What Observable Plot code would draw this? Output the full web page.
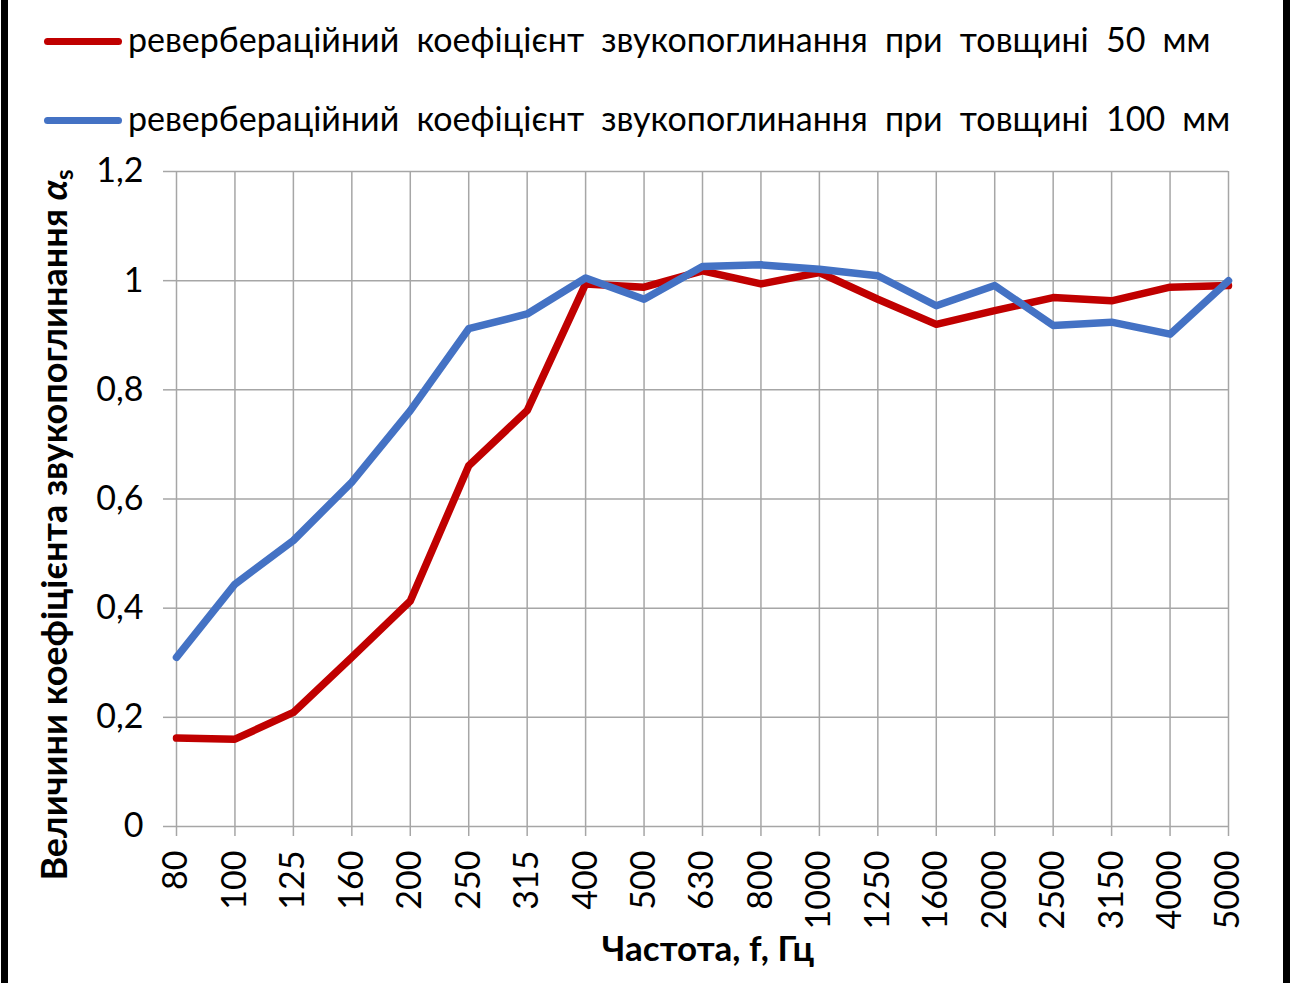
<!DOCTYPE html>
<html>
<head>
<meta charset="utf-8">
<script src="https://cdn.jsdelivr.net/npm/d3@7"></script>
<script src="https://cdn.jsdelivr.net/npm/@observablehq/plot@0.6"></script>
<style>
  html, body { margin: 0; padding: 0; background: #fff; }
  #wrap { position: relative; width: 1290px; height: 983px; overflow: hidden; background: #fff; font-family: Lato, "Open Sans", sans-serif; }
  .bar { position: absolute; top: 0; width: 7px; height: 983px; background: #000; }
  .leg { position: absolute; left: 0; height: 60px; width: 1290px; }
  .leg .sw { position: absolute; left: 44px; width: 78px; height: 7px; border-radius: 4px; }
  .leg .tx { position: absolute; left: 128px; font-size: 34px; line-height: 40px; color: #000; white-space: nowrap; word-spacing: 8.5px; }
  #chart { position: absolute; left: 0; top: 150px; }
</style>
</head>
<body>
<div id="wrap">
  <div class="leg" style="top:0px">
    <div class="sw" style="top:37.5px;background:#C00000"></div>
    <div class="tx" id="t1" style="top:19px"></div>
  </div>
  <div class="leg" style="top:79px">
    <div class="sw" style="top:37.5px;background:#4472C4"></div>
    <div class="tx" id="t2" style="top:19px"></div>
  </div>
  <div id="chart"></div>
  <div class="bar" style="left:1px"></div>
  <div class="bar" style="left:1283px"></div>
</div>
<script>
const categories = ["80","100","125","160","200","250","315","400","500","630","800","1000","1250","1600","2000","2500","3150","4000","5000"];
const thick50 = [0.162,0.160,0.209,0.310,0.413,0.661,0.762,0.994,0.988,1.018,0.994,1.015,0.966,0.920,0.945,0.969,0.963,0.988,0.991];
const thick100 = [0.310,0.444,0.524,0.631,0.762,0.912,0.939,1.005,0.966,1.026,1.029,1.021,1.009,0.954,0.991,0.918,0.924,0.902,1.000];
const seriesNames = ["ревербераційний коефіцієнт звукопоглинання при товщині 50 мм","ревербераційний коефіцієнт звукопоглинання при товщині 100 мм"];
const seriesColors = ["#C00000","#4472C4"];
const yTicks = [0,0.2,0.4,0.6,0.8,1,1.2];
const yTickLabels = ["0","0,2","0,4","0,6","0,8","1","1,2"];
const xTitle = "Частота, f, Гц";
const yTitle = "Величини коефіцієнта звукопоглинання ";

document.getElementById("t1").textContent = seriesNames[0];
document.getElementById("t2").textContent = seriesNames[1];

const d50 = categories.map((c,i)=>({f:c, v:thick50[i]}));
const d100 = categories.map((c,i)=>({f:c, v:thick100[i]}));
const grid = "#a6a6a6";

const chart = Plot.plot({
  width: 1290, height: 833,
  marginLeft: 176, marginRight: 62, marginTop: 21, marginBottom: 157,
  style: {fontFamily: "Lato, 'Open Sans', sans-serif", fontSize: "34px", color: "#000", background: "transparent", overflow: "visible"},
  x: {type: "point", domain: categories, padding: 0, round: false},
  y: {domain: [0, 1.2]},
  marks: [
    Plot.ruleY(yTicks, {y: d=>d, stroke: grid, strokeWidth: 1.5}),
    Plot.ruleX(categories, {x: d=>d, y1: 0, y2: 1.2, stroke: grid, strokeWidth: 1.5}),
    Plot.axisX({tickRotate: -90, tickSize: 10, tickPadding: 14, stroke: grid, strokeWidth: 1.5, label: null, fill: "#000"}),
    Plot.axisY({ticks: yTicks, tickFormat: d => yTickLabels[yTicks.indexOf(d)], tickSize: 13, tickPadding: 20, stroke: grid, strokeWidth: 1.5, label: null, fill: "#000"}),
    Plot.line(d50, {x: "f", y: "v", stroke: seriesColors[0], strokeWidth: 7.5, strokeLinejoin: "round", strokeLinecap: "round"}),
    Plot.line(d100, {x: "f", y: "v", stroke: seriesColors[1], strokeWidth: 7.5, strokeLinejoin: "round", strokeLinecap: "round"})
  ]
});
document.getElementById("chart").appendChild(chart);

const svg = d3.select(chart);
const yl = svg.append("text")
  .attr("transform", "translate(58,375) rotate(-90)")
  .attr("text-anchor", "middle")
  .attr("dominant-baseline", "middle")
  .attr("font-weight", "bold")
  .attr("font-size", 36)
  .attr("fill", "#000");
yl.append("tspan").text(yTitle);
yl.append("tspan").attr("font-style", "italic").text("α");
yl.append("tspan").attr("font-size", 24).attr("dy", 9).text("s");

svg.append("text")
  .attr("x", 708).attr("y", 802)
  .attr("text-anchor", "middle")
  .attr("dominant-baseline", "middle")
  .attr("font-weight", "bold")
  .attr("font-size", 35)
  .attr("fill", "#000")
  .text(xTitle);
</script>
</body>
</html>
